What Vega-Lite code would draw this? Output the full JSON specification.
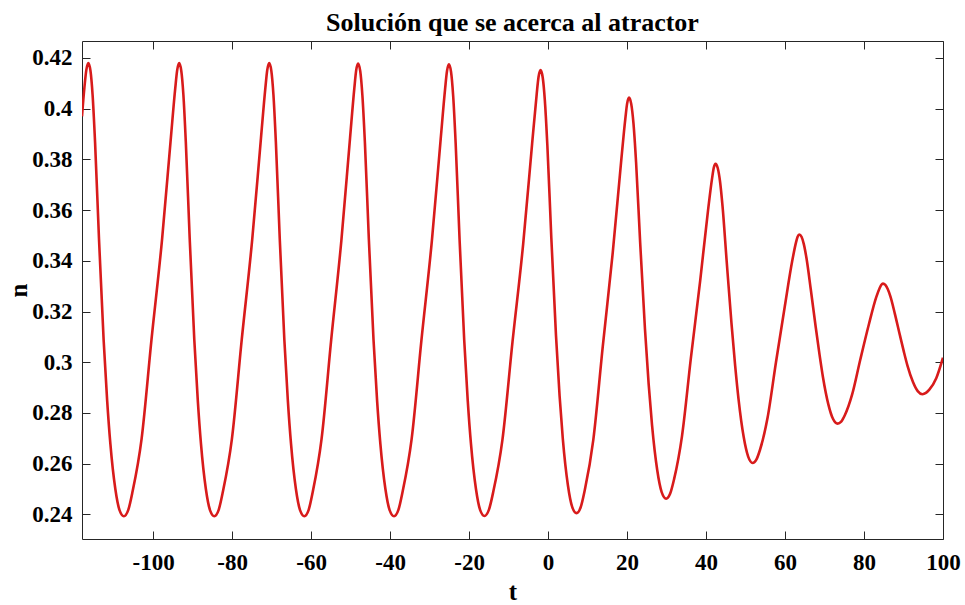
{
  "$schema": "https://vega.github.io/schema/vega-lite/v6.json",
  "autosize": "none",
  "width": 861,
  "height": 498,
  "padding": {"left": 82, "top": 41, "right": 22, "bottom": 66},
  "background": "white",
  "title": {
    "text": "Solución que se acerca al atractor",
    "font": "Liberation Serif",
    "fontSize": 26,
    "fontWeight": "bold",
    "color": "black",
    "anchor": "middle",
    "offset": 5
  },
  "data": {
    "values": [
      {"t": -118, "n": 0.397}, {"t": -117.4, "n": 0.4082}, {"t": -116.9, "n": 0.4153}, {"t": -116.4, "n": 0.418},
      {"t": -115.86, "n": 0.415}, {"t": -115.32, "n": 0.4055}, {"t": -114.69, "n": 0.3867}, {"t": -113.7, "n": 0.3487},
      {"t": -112.53, "n": 0.309}, {"t": -111.63, "n": 0.2849}, {"t": -110.82, "n": 0.2679}, {"t": -109.56, "n": 0.25},
      {"t": -108.48, "n": 0.2416}, {"t": -107.4, "n": 0.2393}, {"t": -106.28, "n": 0.2418}, {"t": -105.16, "n": 0.2493},
      {"t": -102.92, "n": 0.2697}, {"t": -100.4, "n": 0.309}, {"t": -97.74, "n": 0.3483}, {"t": -95.5, "n": 0.3885},
      {"t": -94.38, "n": 0.4082}, {"t": -93.89, "n": 0.4153}, {"t": -93.4, "n": 0.418},
      {"t": -92.87, "n": 0.415}, {"t": -92.33, "n": 0.4055}, {"t": -91.71, "n": 0.3867}, {"t": -90.73, "n": 0.3487},
      {"t": -89.57, "n": 0.309}, {"t": -88.68, "n": 0.2849}, {"t": -87.88, "n": 0.2679}, {"t": -86.64, "n": 0.25},
      {"t": -85.57, "n": 0.2416}, {"t": -84.5, "n": 0.2393}, {"t": -83.39, "n": 0.2418}, {"t": -82.28, "n": 0.2493},
      {"t": -80.05, "n": 0.2697}, {"t": -77.55, "n": 0.309}, {"t": -74.91, "n": 0.3483}, {"t": -72.68, "n": 0.3885},
      {"t": -71.57, "n": 0.4082}, {"t": -71.09, "n": 0.4153}, {"t": -70.6, "n": 0.418},
      {"t": -70.07, "n": 0.415}, {"t": -69.53, "n": 0.4055}, {"t": -68.91, "n": 0.3867}, {"t": -67.93, "n": 0.3487},
      {"t": -66.77, "n": 0.309}, {"t": -65.88, "n": 0.2849}, {"t": -65.08, "n": 0.2679}, {"t": -63.84, "n": 0.25},
      {"t": -62.77, "n": 0.2416}, {"t": -61.7, "n": 0.2393}, {"t": -60.61, "n": 0.2418}, {"t": -59.52, "n": 0.2493},
      {"t": -57.35, "n": 0.2697}, {"t": -54.9, "n": 0.3089}, {"t": -52.32, "n": 0.3482}, {"t": -50.14, "n": 0.3883},
      {"t": -49.05, "n": 0.408}, {"t": -48.58, "n": 0.4151}, {"t": -48.1, "n": 0.4178},
      {"t": -47.55, "n": 0.4148}, {"t": -47.01, "n": 0.4053}, {"t": -46.37, "n": 0.3866}, {"t": -45.37, "n": 0.3485},
      {"t": -44.19, "n": 0.3089}, {"t": -43.28, "n": 0.2848}, {"t": -42.46, "n": 0.2679}, {"t": -41.18, "n": 0.25},
      {"t": -40.09, "n": 0.2416}, {"t": -39.0, "n": 0.2393}, {"t": -37.89, "n": 0.2418}, {"t": -36.78, "n": 0.2493},
      {"t": -34.55, "n": 0.2696}, {"t": -32.05, "n": 0.3088}, {"t": -29.41, "n": 0.348}, {"t": -27.18, "n": 0.3881},
      {"t": -26.07, "n": 0.4077}, {"t": -25.59, "n": 0.4148}, {"t": -25.1, "n": 0.4175},
      {"t": -24.56, "n": 0.4145}, {"t": -24.02, "n": 0.405}, {"t": -23.39, "n": 0.3863}, {"t": -22.4, "n": 0.3484},
      {"t": -21.23, "n": 0.3089}, {"t": -20.33, "n": 0.2848}, {"t": -19.52, "n": 0.2679}, {"t": -18.26, "n": 0.2501},
      {"t": -17.18, "n": 0.2417}, {"t": -16.1, "n": 0.2394}, {"t": -14.96, "n": 0.2419}, {"t": -13.83, "n": 0.2492},
      {"t": -11.56, "n": 0.2693}, {"t": -9.0, "n": 0.308}, {"t": -6.3, "n": 0.3466}, {"t": -4.03, "n": 0.3862},
      {"t": -2.89, "n": 0.4055}, {"t": -2.4, "n": 0.4126}, {"t": -1.9, "n": 0.4152},
      {"t": -1.35, "n": 0.4123}, {"t": -0.81, "n": 0.4033}, {"t": -0.17, "n": 0.3854}, {"t": 0.83, "n": 0.349},
      {"t": 2.01, "n": 0.3106}, {"t": 2.92, "n": 0.2868}, {"t": 3.74, "n": 0.2698}, {"t": 5.02, "n": 0.2516},
      {"t": 6.11, "n": 0.243}, {"t": 7.2, "n": 0.2405}, {"t": 8.26, "n": 0.2428}, {"t": 9.33, "n": 0.2498},
      {"t": 11.46, "n": 0.2694}, {"t": 13.85, "n": 0.3062}, {"t": 16.38, "n": 0.3432}, {"t": 18.51, "n": 0.3792},
      {"t": 19.57, "n": 0.3961}, {"t": 20.03, "n": 0.4021}, {"t": 20.5, "n": 0.4044},
      {"t": 21.06, "n": 0.4019}, {"t": 21.63, "n": 0.3942}, {"t": 22.29, "n": 0.3789}, {"t": 23.32, "n": 0.3473},
      {"t": 24.54, "n": 0.3131}, {"t": 25.48, "n": 0.2913}, {"t": 26.33, "n": 0.2752}, {"t": 27.64, "n": 0.2575},
      {"t": 28.77, "n": 0.2488}, {"t": 29.9, "n": 0.2462}, {"t": 30.9, "n": 0.2481}, {"t": 31.9, "n": 0.2538},
      {"t": 33.9, "n": 0.2707}, {"t": 36.15, "n": 0.3014}, {"t": 38.53, "n": 0.3323}, {"t": 40.53, "n": 0.3602},
      {"t": 41.53, "n": 0.3725}, {"t": 41.96, "n": 0.3767}, {"t": 42.4, "n": 0.3783},
      {"t": 42.96, "n": 0.3766}, {"t": 43.53, "n": 0.3715}, {"t": 44.19, "n": 0.3614}, {"t": 45.22, "n": 0.34},
      {"t": 46.44, "n": 0.3154}, {"t": 47.38, "n": 0.2986}, {"t": 48.23, "n": 0.2855}, {"t": 49.54, "n": 0.2705},
      {"t": 50.67, "n": 0.2628}, {"t": 51.8, "n": 0.2603}, {"t": 52.74, "n": 0.2616}, {"t": 53.69, "n": 0.2656},
      {"t": 55.58, "n": 0.2781}, {"t": 57.7, "n": 0.2999}, {"t": 59.94, "n": 0.322}, {"t": 61.83, "n": 0.34},
      {"t": 62.77, "n": 0.3472}, {"t": 63.19, "n": 0.3495}, {"t": 63.6, "n": 0.3504},
      {"t": 64.18, "n": 0.3495}, {"t": 64.76, "n": 0.3466}, {"t": 65.44, "n": 0.341}, {"t": 66.51, "n": 0.3289},
      {"t": 67.77, "n": 0.3139}, {"t": 68.74, "n": 0.303}, {"t": 69.61, "n": 0.2941}, {"t": 70.97, "n": 0.2834},
      {"t": 72.14, "n": 0.2777}, {"t": 73.3, "n": 0.2758}, {"t": 74.22, "n": 0.2766}, {"t": 75.14, "n": 0.2791},
      {"t": 76.98, "n": 0.2872}, {"t": 79.05, "n": 0.301}, {"t": 81.24, "n": 0.315}, {"t": 83.08, "n": 0.3256},
      {"t": 84.0, "n": 0.3294}, {"t": 84.4, "n": 0.3306}, {"t": 84.8, "n": 0.331},
      {"t": 85.4, "n": 0.3305}, {"t": 86.0, "n": 0.3289}, {"t": 86.7, "n": 0.3259}, {"t": 87.8, "n": 0.3192},
      {"t": 89.1, "n": 0.3106}, {"t": 90.1, "n": 0.3041}, {"t": 91.0, "n": 0.2987}, {"t": 92.4, "n": 0.2922},
      {"t": 93.6, "n": 0.2886}, {"t": 94.8, "n": 0.2874}, {"t": 95.67, "n": 0.2879}, {"t": 96.54, "n": 0.2892},
      {"t": 98.29, "n": 0.2937}, {"t": 100, "n": 0.3018}
    ]
  },
  "layer": [
    {
      "mark": {"type": "line", "color": "#d81b1b", "strokeWidth": 2.6, "interpolate": "monotone", "clip": true},
      "encoding": {
        "x": {
          "field": "t", "type": "quantitative",
          "scale": {"domain": [-118, 100], "nice": false, "zero": false},
          "axis": {
            "orient": "bottom", "title": "t",
            "values": [-100, -80, -60, -40, -20, 0, 20, 40, 60, 80, 100],
            "labelExpr": "toString(datum.value)",
            "labelPadding": 20,
            "titlePadding": 5
          }
        },
        "y": {
          "field": "n", "type": "quantitative",
          "scale": {"domain": [0.2303, 0.4267], "nice": false, "zero": false},
          "axis": {
            "orient": "left", "title": "n",
            "values": [0.24, 0.26, 0.28, 0.3, 0.32, 0.34, 0.36, 0.38, 0.4, 0.42],
            "labelExpr": "toString(datum.value)",
            "labelPadding": 18,
            "titlePadding": 0
          }
        }
      }
    },
    {
      "mark": {"type": "line", "opacity": 0},
      "encoding": {
        "x": {
          "field": "t", "type": "quantitative",
          "axis": {"orient": "top", "title": null, "labels": false,
                   "values": [-100, -80, -60, -40, -20, 0, 20, 40, 60, 80, 100]}
        },
        "y": {
          "field": "n", "type": "quantitative",
          "axis": {"orient": "right", "title": null, "labels": false,
                   "values": [0.24, 0.26, 0.28, 0.3, 0.32, 0.34, 0.36, 0.38, 0.4, 0.42]}
        }
      }
    }
  ],
  "resolve": {"axis": {"x": "independent", "y": "independent"}},
  "config": {
    "view": {"stroke": null},
    "axis": {
      "grid": false,
      "domainColor": "#262626",
      "domainWidth": 1,
      "tickColor": "#262626",
      "tickWidth": 1,
      "tickSize": -8,
      "labelFont": "Liberation Serif",
      "labelFontSize": 23,
      "labelFontWeight": "bold",
      "labelColor": "black",
      "labelOverlap": false,
      "labelBound": false,
      "labelFlush": false,
      "titleFont": "Liberation Serif",
      "titleFontSize": 25,
      "titleFontWeight": "bold",
      "titleColor": "black"
    }
  }
}
